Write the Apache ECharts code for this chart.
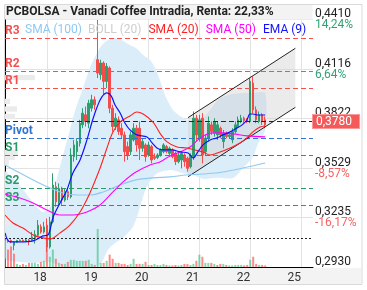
<!DOCTYPE html>
<html><head><meta charset="utf-8">
<script src="https://cdn.jsdelivr.net/npm/echarts@6/dist/echarts.min.js"></script>
<style>html,body{margin:0;padding:0;background:#fff}#c{width:367px;height:290px}</style>
</head><body><div id="c"></div>
<script>
// ---------- data ----------
const slotCount = 104;
const dayStarts = [14, 31, 48, 65, 82, 99];
const dayLabels = ['18', '19', '20', '21', '22', '25'];

const open  = [0.3100,0.3090,0.3088,0.3060,0.3078,0.3088,0.3090,0.3086,0.3092,0.3088,0.3100,0.3120,0.3170,0.3140,
  0.3180,0.3050,0.3200,0.3410,0.3320,0.3400,0.3330,0.3380,0.3350,0.3590,0.3620,0.3670,0.3780,0.3840,0.3790,0.3880,0.3930,
  0.4170,0.4080,0.4150,0.4040,0.4120,0.3880,0.3770,0.3810,0.3760,0.3720,0.3650,0.3620,0.3690,0.3760,0.3760,0.3640,0.3660,
  0.3600,0.3650,0.3590,0.3585,0.3600,0.3620,0.3650,0.3610,0.3630,0.3610,0.3560,0.3570,0.3600,0.3580,0.3530,0.3590,0.3820,
  0.3700,0.3820,0.3620,0.3700,0.3780,0.3730,0.3720,0.3760,0.3680,0.3730,0.3710,0.3690,0.3740,0.3770,0.3800,0.3820,0.3810,
  0.3800,0.4030,0.3870,0.3800,0.3840,0.3810];
const close = [0.3090,0.3085,0.3080,0.3078,0.3088,0.3090,0.3086,0.3092,0.3088,0.3110,0.3125,0.3180,0.3140,0.3170,
  0.3050,0.3200,0.3420,0.3320,0.3400,0.3330,0.3380,0.3350,0.3600,0.3660,0.3680,0.3790,0.3850,0.3800,0.3910,0.3930,0.3900,
  0.4090,0.4150,0.4040,0.4130,0.3880,0.3770,0.3820,0.3740,0.3720,0.3620,0.3600,0.3720,0.3760,0.3660,0.3640,0.3680,0.3590,
  0.3660,0.3570,0.3580,0.3600,0.3630,0.3660,0.3620,0.3640,0.3590,0.3560,0.3600,0.3610,0.3560,0.3520,0.3590,0.3820,0.3720,
  0.3810,0.3600,0.3700,0.3790,0.3740,0.3800,0.3780,0.3720,0.3730,0.3710,0.3720,0.3740,0.3780,0.3810,0.3820,0.3805,0.3800,
  0.4040,0.3870,0.3810,0.3840,0.3800,0.3780];
const low   = [0.3080,0.3075,0.3072,0.3030,0.3075,0.3084,0.3082,0.3080,0.3060,0.3085,0.3070,0.3110,0.3130,0.3130,
  0.3020,0.3040,0.3190,0.3290,0.3300,0.3300,0.3320,0.3330,0.3340,0.3560,0.3570,0.3650,0.3760,0.3770,0.3760,0.3860,0.3870,
  0.4060,0.4050,0.3960,0.4000,0.3850,0.3740,0.3750,0.3720,0.3700,0.3560,0.3570,0.3600,0.3680,0.3620,0.3570,0.3620,0.3560,
  0.3590,0.3550,0.3570,0.3575,0.3590,0.3610,0.3610,0.3590,0.3580,0.3540,0.3550,0.3520,0.3530,0.3500,0.3520,0.3570,0.3680,
  0.3680,0.3550,0.3600,0.3680,0.3720,0.3710,0.3690,0.3700,0.3640,0.3700,0.3700,0.3670,0.3730,0.3760,0.3790,0.3790,0.3790,
  0.3790,0.3850,0.3790,0.3790,0.3780,0.3760];
const high  = [0.3110,0.3095,0.3095,0.3085,0.3092,0.3095,0.3094,0.3100,0.3098,0.3140,0.3150,0.3211,0.3185,0.3200,
  0.3220,0.3230,0.3490,0.3440,0.3430,0.3410,0.3400,0.3395,0.3640,0.3690,0.3700,0.3810,0.3880,0.3890,0.3930,0.3960,0.3950,
  0.4407,0.4170,0.4160,0.4150,0.4130,0.3900,0.3850,0.3830,0.3790,0.3740,0.3680,0.3740,0.3790,0.3780,0.3800,0.3700,0.3670,
  0.3680,0.3660,0.3610,0.3610,0.3640,0.3670,0.3660,0.3650,0.3640,0.3620,0.3620,0.3620,0.3610,0.3590,0.3610,0.3860,0.3840,
  0.3840,0.3850,0.3720,0.3830,0.3800,0.3820,0.3800,0.3770,0.3750,0.3740,0.3730,0.3760,0.3800,0.3830,0.3840,0.3830,0.3820,
  0.4060,0.4070,0.3890,0.3860,0.3850,0.3830];
const volume = [54,34,40,26,6,4,6,4,8,8,8,6,10,12,
  56,20,34,16,8,6,6,10,14,14,12,12,12,12,14,6,4,
  74,8,8,12,24,16,8,8,6,6,4,6,16,6,6,6,10,
  4,4,6,4,4,6,4,3,3,4,3,4,6,6,4,6,12,
  24,20,8,8,8,6,4,6,6,4,3,3,4,4,4,3,4,
  14,20,6,4,4,3];

// indicators (x in slot units)
const emaX = [0,1.7,5.0,9.4,12.7,14.4,16.1,18.4,20.7,22.7,25.1,27.4,29.1,30.8,32.4,34.1,35.5,36.8,38.5,40.1,41.8,44.1,47.5,49.2,50.8,52.8,55.9,58.5,61.2,62.9,64.5,66.2,68.6,70.9,72.9,75.3,77.6,79.3,80.9,81.9,82.9,84.6,87];
const ema  = [0.3134,0.3080,0.3080,0.3086,0.3116,0.3122,0.3229,0.3313,0.3391,0.3492,0.3570,0.3690,0.3797,0.3887,0.3947,0.3971,0.3953,0.3899,0.3851,0.3791,0.3750,0.3720,0.3708,0.3672,0.3642,0.3630,0.3630,0.3618,0.3612,0.3582,0.3618,0.3660,0.3690,0.3702,0.3720,0.3738,0.3762,0.3780,0.3809,0.3845,0.3845,0.3839,0.3839];
const sma20X = [0,2.7,6.0,9.4,12.7,15.1,18.4,21.7,25.1,28.4,31.8,34.1,36.1,38.5,41.8,44.1,46.2,49.5,51.8,54.2,57.5,60.9,63.5,66.2,68.6,71.9,75.3,78.6,80.9,82.9,85.3,87];
const sma20  = [0.3241,0.3193,0.3163,0.3122,0.3104,0.3098,0.3134,0.3181,0.3259,0.3373,0.3522,0.3642,0.3738,0.3797,0.3833,0.3857,0.3845,0.3797,0.3731,0.3678,0.3648,0.3642,0.3630,0.3618,0.3600,0.3618,0.3642,0.3672,0.3702,0.3738,0.3767,0.3773];
const sma50X = [0,5.0,9.4,14.0,18.4,22.7,27.4,31.8,36.1,39.5,43.8,48.5,51.8,55.2,58.5,61.9,64.5,66.9,69.6,72.9,76.3,81,87];
const sma50  = [0.3367,0.3343,0.3313,0.3271,0.3241,0.3241,0.3259,0.3301,0.3379,0.3439,0.3498,0.3540,0.3558,0.3594,0.3618,0.3648,0.3690,0.3720,0.3732,0.3732,0.3726,0.3714,0.3708];
const sma100X = [0,5.0,10.7,15.1,19.4,24.1,28.4,32.8,38.5,43.8,49.5,55.2,60.5,66.2,72.9,79.6,87];
const sma100  = [0.3540,0.3492,0.3439,0.3403,0.3373,0.3361,0.3361,0.3379,0.3421,0.3451,0.3463,0.3469,0.3480,0.3486,0.3498,0.3522,0.3552];
const bollUpX = [0,3.3,6.7,10,12.7,15.1,17.1,19.4,21.7,23.7,26.1,28.4,30.4,32.4,34.4,36.1,38.5,41.1,43.8,46.2,48.5,50.2,51.8,53.8,56.2,58.5,61.2,63.9,66.2,68.6,71.2,73.6,76.3,79.6,82.9,87];
const bollUp  = [0.3498,0.3451,0.3379,0.3301,0.3259,0.3289,0.3439,0.3600,0.3750,0.3881,0.4001,0.4120,0.4198,0.4258,0.4288,0.4300,0.4294,0.4264,0.4240,0.4198,0.4168,0.4120,0.4049,0.3947,0.3869,0.3833,0.3809,0.3803,0.3821,0.3869,0.3929,0.3953,0.3965,0.3971,0.3971,0.3971];
const bollLoX = [0,5,10,15.1,20.1,25.1,30.1,32.4,34.4,36.8,39.5,42.8,45.2,47.2,50.5,55.2,59.5,62.9,66.2,70.2,76.3,79.6,82.9,84.6,87];
const bollLo  = [0.2984,0.2960,0.2954,0.2960,0.2924,0.2912,0.2930,0.2960,0.3032,0.3074,0.3104,0.3170,0.3289,0.3403,0.3486,0.3510,0.3492,0.3480,0.3457,0.3463,0.3463,0.3522,0.3588,0.3666,0.3750];

// trend channel
const chanX = [61.2, 97.1];
const chanUpper = [0.3823, 0.4238];
const chanLower = [0.3470, 0.3885];

// volume-at-price profile
const vpPrice = [0.4063,0.3920,0.3875,0.3830,0.3615,0.3585,0.3555,0.3225,0.3195];
const vpWidth = [10,1.7,4,3.3,4.3,3.3,1.3,1.3,1.7];

// levels
const levelNames  = ['R3','R2','R1','Pivot','S1','S2','S3'];
const levelValues = [0.4327,0.4094,0.3981,0.3743,0.3628,0.3389,0.3275];
const lastPrice = 0.3780, lastPriceLabel = '0,3780';
const startPrice = 0.3090;

// y ticks
const yMin = 0.2930, yInterval = 0.0296, yMax = 0.4467;
const yTickLabels = ['0,2930','0,3235','0,3529','0,3822','0,4116','0,4410'];
const yTickPct    = ['', '-16,17%', '-8,57%', '', '6,64%', '14,24%'];

const titleText = 'PCBOLSA - Vanadi Coffee Intradia, Renta: 22,33%';

// ---------- chart ----------
const RED = '#f44b4b', GREEN = '#2e9e6e';
const FONT = 'Roboto';
const chart = echarts.init(document.getElementById('c'), null, {renderer: 'canvas'});

const levelColor = n => n[0] === 'R' ? '#f45050' : (n === 'Pivot' ? '#2f74d0' : '#2a9a6a');

const candleData = open.map((o, i) => [o, close[i], low[i], high[i]]);
const volData = volume.map((v, i) => {
  const up = i === 0 ? close[i] >= open[i] : close[i] >= close[i - 1];
  return {value: v, itemStyle: {color: up ? 'rgba(70,195,135,0.65)' : 'rgba(255,90,90,0.7)'}};
});
const pairs = (xs, ys) => xs.map((x, i) => [x, ys[i]]);

const lineS = (name, xs, ys, color, w) => ({
  name, type: 'line', xAxisIndex: 1, yAxisIndex: 0, data: pairs(xs, ys),
  smooth: 0.35, symbol: 'none', silent: true, animation: false,
  lineStyle: {color, width: w || 1.2}, itemStyle: {color}, z: 6
});

const markData = levelNames.map((n, i) => ({
  name: n, yAxis: levelValues[i],
  lineStyle: {color: levelColor(n), type: [5, 3], width: 1},
  label: {show: true, position: 'insideStartTop', formatter: '{b}', color: levelColor(n),
          fontSize: 12, fontWeight: 'bold', fontFamily: FONT, distance: [0, 1]}
}));
markData.push({
  name: 'last', yAxis: lastPrice,
  lineStyle: {color: '#1010e0', type: [5, 3], width: 1},
  label: {show: true, position: 'end', formatter: lastPriceLabel, color: '#fff',
          backgroundColor: '#f45a5a', borderColor: '#f99', borderWidth: 1,
          padding: [1, 7, 0, 3], distance: 0, fontSize: 12, fontFamily: FONT}
});
markData.push({
  name: 'start', yAxis: startPrice,
  lineStyle: {color: '#222', type: [2, 2], width: 1},
  label: {show: false}
});

const option = {
  animation: false,
  textStyle: {fontFamily: FONT},
  title: {text: titleText, left: 6, top: 6, padding: 0, z: 30,
          textStyle: {fontSize: 12, fontWeight: 'bold', color: '#222', fontFamily: FONT}},
  legend: {
    left: 19, top: 24, padding: 0, itemWidth: 0, itemHeight: 0, itemGap: 1, selectedMode: false, z: 30,
    textStyle: {fontSize: 12, fontFamily: FONT},
    data: [
      {name: 'SMA (100)', textStyle: {color: '#8ec9f2'}},
      {name: 'BOLL (20)', textStyle: {color: '#cdcdcd'}},
      {name: 'SMA (20)', textStyle: {color: '#ff2020'}},
      {name: 'SMA (50)', textStyle: {color: '#ff00ff'}},
      {name: 'EMA (9)', textStyle: {color: '#1010ff'}}
    ]
  },
  graphic: [
    {type: 'rect', z: 20, silent: true, shape: {x: 5, y: 5, width: 307.5, height: 14.5}, style: {fill: '#f3f3f3'}},
    {type: 'rect', z: 0, silent: true, shape: {x: 5, y: 268, width: 356, height: 16.5}, style: {fill: '#f3f3f3'}},
    {type: 'rect', z: 21, silent: true, shape: {x: 4.5, y: 4.5, width: 357.5, height: 280}, style: {fill: 'none', stroke: '#d9d9d9', lineWidth: 1}}
  ],
  grid: {left: 5, right: 54, top: 10, bottom: 23},
  xAxis: [
    {type: 'category', data: Array.from({length: slotCount}, (_, i) => String(i)), boundaryGap: false,
     axisLine: {lineStyle: {color: '#000', width: 1}}, axisTick: {show: false},
     axisLabel: {interval: (i) => dayStarts.includes(i), formatter: (v, i) => dayLabels[dayStarts.indexOf(Number(v))] || '',
                 align: 'right', margin: 5, color: '#333', fontSize: 12, fontFamily: FONT},
     splitLine: {show: true, interval: (i) => dayStarts.includes(i), lineStyle: {color: '#e3e3e3'}}},
    {type: 'value', min: 0, max: slotCount - 1, show: false}
  ],
  yAxis: [
    {type: 'value', position: 'right', min: yMin, max: yMax, interval: yInterval, scale: true,
     axisLine: {show: true, lineStyle: {color: '#000'}}, axisTick: {show: false},
     splitLine: {lineStyle: {color: '#e3e3e3'}},
     axisLabel: {margin: 2, fontFamily: FONT,
       formatter: (v, i) => {
         if (i >= yTickLabels.length) return '';
         const p = yTickPct[i];
         const cls = p.startsWith('-') ? 'n' : 'g';
         return '{v|' + yTickLabels[i] + '}\n{' + cls + '|' + (p || ' ') + '}';
       },
       rich: {
         v: {fontSize: 12, color: '#222', lineHeight: 11, fontFamily: FONT},
         g: {fontSize: 12, color: '#32a276', lineHeight: 11, fontFamily: FONT},
         n: {fontSize: 12, color: '#f56464', lineHeight: 11, fontFamily: FONT}
       }}},
    {type: 'value', min: 0, max: 500, show: false}
  ],
  series: [
    {name: 'BOLL (20)', type: 'custom', xAxisIndex: 1, yAxisIndex: 0, clip: true, silent: true, z: 1,
     data: [[0, 0]],
     renderItem: (params, api) => {
       const pts = pairs(bollUpX, bollUp).map(p => api.coord(p))
         .concat(pairs(bollLoX, bollLo).reverse().map(p => api.coord(p)));
       return {type: 'polygon', shape: {points: pts, smooth: 0.25}, style: {fill: '#dcedfa'}};
     }, itemStyle: {color: '#cdcdcd'}},
    {name: 'vp', type: 'custom', xAxisIndex: 1, yAxisIndex: 0, clip: true, silent: true, z: 1,
     data: vpPrice.map((p, i) => [vpWidth[i], p]), encode: {x: 0, y: 1},
     renderItem: (params, api) => {
       const a = api.coord([0, api.value(1) + 0.0016]);
       const b = api.coord([api.value(0), api.value(1) - 0.0016]);
       return {type: 'rect', shape: {x: a[0], y: a[1], width: b[0] - a[0], height: b[1] - a[1]}, style: {fill: '#ebebeb'}};
     }},
    {name: 'chanFill', type: 'custom', xAxisIndex: 1, yAxisIndex: 0, clip: true, silent: true, z: 2,
     data: [[0, 0]],
     renderItem: (params, api) => {
       const pts = pairs(chanX, chanUpper).map(p => api.coord(p))
         .concat(pairs(chanX, chanLower).reverse().map(p => api.coord(p)));
       return {type: 'polygon', shape: {points: pts}, style: {fill: 'rgba(205,205,205,0.4)'}};
     }},
    {name: 'vol', type: 'bar', xAxisIndex: 0, yAxisIndex: 1, data: volData, barWidth: 2, silent: true, z: 2},
    {name: 'price', type: 'candlestick', xAxisIndex: 0, yAxisIndex: 0, data: candleData, barWidth: 2, z: 4, silent: true,
     itemStyle: {color: GREEN, color0: RED, borderColor: GREEN, borderColor0: RED, borderWidth: 1},
     markLine: {symbol: ['none', 'none'], silent: true, animation: false, data: markData}},
    {name: 'chanU', type: 'line', xAxisIndex: 1, data: pairs(chanX, chanUpper), symbol: 'none', silent: true,
     lineStyle: {color: '#222', width: 1}, z: 5},
    {name: 'chanL', type: 'line', xAxisIndex: 1, data: pairs(chanX, chanLower), symbol: 'none', silent: true,
     lineStyle: {color: '#222', width: 1}, z: 5},
    lineS('SMA (100)', sma100X, sma100, '#8ec9f2', 1.1),
    lineS('SMA (50)', sma50X, sma50, '#ff00ff', 1.1),
    lineS('SMA (20)', sma20X, sma20, '#ff2020', 1.1),
    lineS('EMA (9)', emaX, ema, '#1010ff', 1.2)
  ]
};
chart.setOption(option);
</script></body></html>
